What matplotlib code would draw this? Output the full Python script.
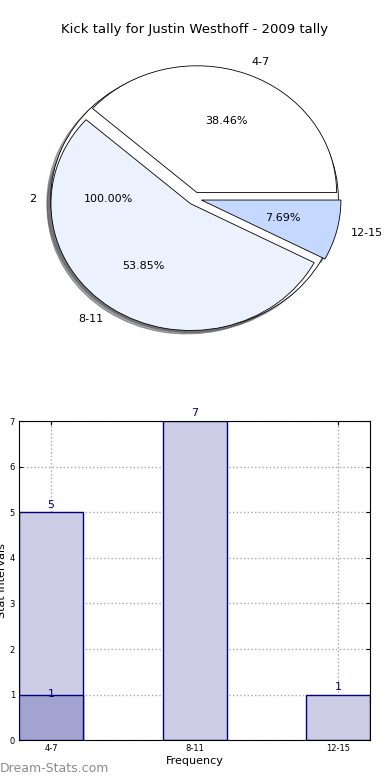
import matplotlib.pyplot as plt

# datos
categories = ["4-7", "8-11", "12-15"]
counts = [5, 7, 1]
overlay = [1, 0, 0]
total_label = "2"
total_value = [1]

pie_colors = ["#ffffff", "#ebf1fd", "#c5d8ff"]
NAVY = "#000080"

fig = plt.figure(figsize=(3.9, 7.8), dpi=100)
fig.patch.set_facecolor("white")

# --- pie ---
ax1 = fig.add_axes([0.0513, 0.5423, 0.895, 0.4064])
ax1.pie(total_value, labels=[total_label], colors=["white"], autopct="%.2f%%",
        shadow=True, startangle=0, radius=1.03,
        wedgeprops=dict(edgecolor="black", linewidth=0.6),
        textprops=dict(fontsize=8))
ax1.pie(counts, labels=categories, colors=pie_colors, autopct="%.2f%%",
        explode=[0.05] * len(counts), shadow=True, startangle=0,
        wedgeprops=dict(edgecolor="black", linewidth=0.6),
        textprops=dict(fontsize=8))
ax1.set_aspect("auto")
ax1.set_xlim(-1.25, 1.25)
ax1.set_ylim(-1.25, 1.25)
fig.text(0.5, 1 - 30 / 780, "Kick tally for Justin Westhoff - 2009 tally",
         ha="center", va="center", fontsize=9.5)

# --- barras ---
ax2 = fig.add_axes([0.049, 0.051, 0.9, 0.409])
x = list(range(len(categories)))
w = 0.446
ax2.bar(x, counts, width=w, color="#cccce5", edgecolor=NAVY, linewidth=1, zorder=2)
ov_x = [xi for xi, v in zip(x, overlay) if v]
ov_v = [v for v in overlay if v]
ax2.bar(ov_x, ov_v, width=w, color="#a3a3cf", edgecolor=NAVY, linewidth=1, zorder=3)
for xi, v in zip(x, counts):
    ax2.text(xi, v + 0.06, str(v), ha="center", va="bottom", fontsize=8, color=NAVY)
for xi, v in zip(ov_x, ov_v):
    ax2.text(xi, v - 0.1, str(v), ha="center", va="bottom", fontsize=8, color=NAVY, zorder=4)
ax2.set_xlim(-w / 2, len(categories) - 1 + w / 2)
ax2.set_ylim(0, 7)
ax2.set_xticks(x)
ax2.set_xticklabels(categories)
ax2.set_yticks(range(0, 8))
ax2.tick_params(labelsize=6, direction="in", top=True, right=True, length=3, pad=3)
ax2.grid(True, linestyle=":", color="#aaaaaa", linewidth=1, zorder=0)
ax2.set_axisbelow(True)
ax2.set_xlabel("Frequency", fontsize=8, labelpad=2)
ax2.set_ylabel("Stat Intervals", fontsize=8, labelpad=2)

fig.text(0.0, 0.006, "Dream-Stats.com", fontsize=9, color="#8c8c8c",
         ha="left", va="bottom")

fig.savefig("out.png", dpi=100, facecolor="white")
